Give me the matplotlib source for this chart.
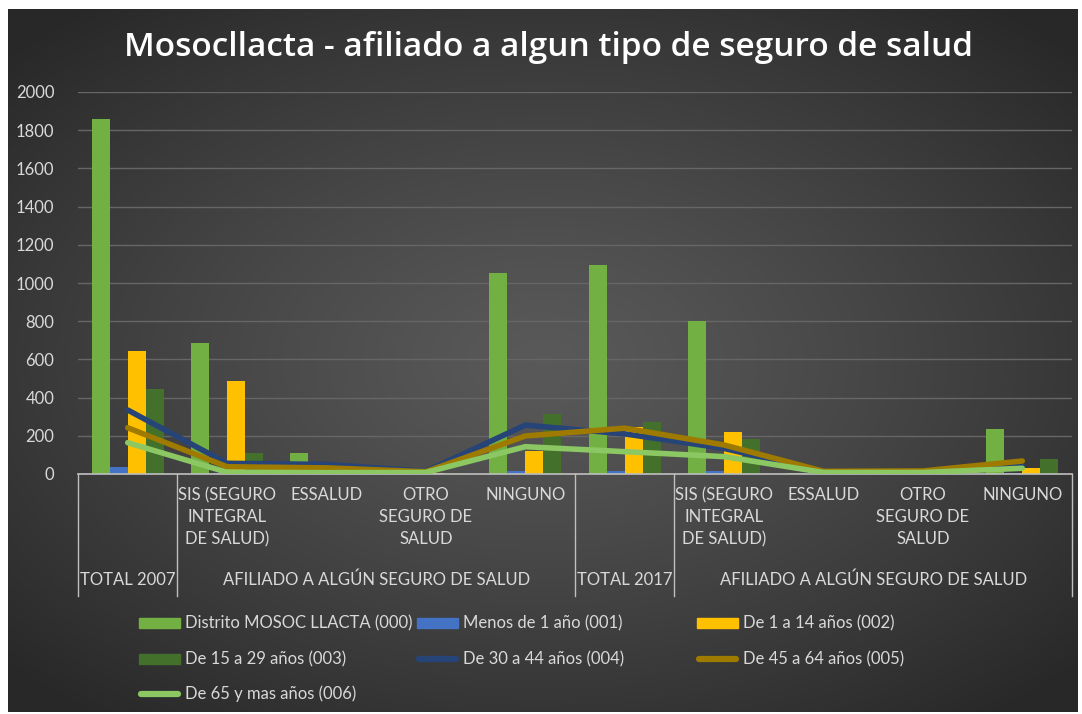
import numpy as np
import matplotlib
matplotlib.use("Agg")
import matplotlib.pyplot as plt
from matplotlib.patches import Rectangle
from matplotlib.lines import Line2D
import matplotlib.transforms as mtransforms


# ---------------------------
# Data
# ---------------------------
level1_labels = ["", "SIS (SEGURO\nINTEGRAL\nDE SALUD)", "ESSALUD", "OTRO\nSEGURO DE\nSALUD", "NINGUNO",
                 "", "SIS (SEGURO\nINTEGRAL\nDE SALUD)", "ESSALUD", "OTRO\nSEGURO DE\nSALUD", "NINGUNO"]
level2_labels = ["TOTAL 2007", "AFILIADO A ALGÚN SEGURO DE SALUD",
                 "TOTAL 2017", "AFILIADO A ALGÚN SEGURO DE SALUD"]
level2_spans = [(0, 0), (1, 4), (5, 5), (6, 9)]

bar_names = ["Distrito MOSOC LLACTA (000)", "Menos de 1 año (001)",
             "De 1 a 14 años (002)", "De 15 a 29 años (003)"]
distrito = [1860, 687, 108, 8, 1053, 1093, 802, 6, 4, 235]
menos_1 = [35, 4, 2, 0, 14, 17, 17, 0, 0, 4]
de_1_14 = [645, 485, 10, 3, 120, 248, 221, 3, 2, 30]
de_15_29 = [443, 108, 20, 3, 314, 274, 183, 3, 2, 78]

line_names = ["De 30 a 44 años (004)", "De 45 a 64 años (005)", "De 65 y mas años (006)"]
de_30_44 = [335, 56, 50, 14, 256, 210, 134, 12, 10, 40]
de_45_64 = [242, 38, 32, 12, 199, 240, 152, 14, 16, 68]
de_65 = [164, 9, 7, 8, 143, 117, 91, 8, 8, 30]

bar_colors = ["#72B043", "#4472C4", "#FFC000", "#43702B"]
line_colors = ["#264478", "#9E7A00", "#8BC763"]

W, H = 1082, 714
TXT = "#D9D9D9"
FONT = ["Lato", "DejaVu Sans"]


def fx(px):
    return px / W


def fy(py):
    return 1 - py / H


# ---------------------------
# Figure + background
# ---------------------------
fig = plt.figure(figsize=(W / 100, H / 100), dpi=100)
fig.patch.set_facecolor("white")

bg = fig.add_axes([fx(8), fy(712), fx(1078) - fx(8), fy(9) - fy(712)], zorder=0)
gx, gy = np.meshgrid(np.linspace(-1, 1, 400), np.linspace(-1, 1, 300))
r = np.clip(np.sqrt(gx ** 2 + (gy * 1.05) ** 2) / 1.35, 0, 1)
shade = 0.35 - 0.19 * r ** 1.2
bg.imshow(np.dstack([shade] * 3), aspect="auto", extent=[0, 1, 0, 1])
bg.set_axis_off()

# ---------------------------
# Main axes
# ---------------------------
ax = fig.add_axes([fx(78), fy(474), fx(1072) - fx(78), fy(92) - fy(474)], zorder=1)
ax.set_facecolor("none")
x = np.arange(len(distrito))
bw = 0.182
series = [distrito, menos_1, de_1_14, de_15_29]
for i, (vals, name, c) in enumerate(zip(series, bar_names, bar_colors)):
    ax.bar(x + (i - 1.5) * bw, vals, width=bw, color=c, label=name, zorder=2)

for vals, name, c in zip([de_30_44, de_45_64, de_65], line_names, line_colors):
    ax.plot(x, vals, color=c, lw=4.0, label=name, zorder=3,
            solid_capstyle="round", solid_joinstyle="round")

ax.set_xlim(-0.5, len(distrito) - 0.5)
ax.set_ylim(0, 2000)
ax.set_yticks(np.arange(0, 2001, 200))
ax.yaxis.grid(True, color="#666666", lw=1.0)
ax.set_axisbelow(True)
ax.tick_params(axis="y", length=0, labelcolor=TXT, labelsize=12, pad=17)
for t in ax.get_yticklabels():
    t.set_family(FONT)
ax.tick_params(axis="x", length=0, labelbottom=False)
for s in ["top", "right", "left"]:
    ax.spines[s].set_visible(False)
ax.spines["bottom"].set_color("#BFBFBF")
ax.spines["bottom"].set_linewidth(1.2)

# multi-level category axis
trans = mtransforms.blended_transform_factory(ax.transData, ax.transAxes)
axis_h = 474 - 92
bottom_y = (474 - 596) / axis_h
for b in [-0.5, 0.5, 4.5, 5.5, 9.5]:
    ax.plot([b, b], [0, bottom_y], color="#BFBFBF", lw=1.0, transform=trans, clip_on=False)

for xi, lab in zip(x, level1_labels):
    if lab:
        ax.text(xi, (474 - 487) / axis_h, lab, transform=trans, ha="center", va="top",
                color=TXT, fontsize=12, family=FONT, linespacing=1.45)

for lab, (a, b) in zip(level2_labels, level2_spans):
    ax.text((a + b) / 2, (474 - 580) / axis_h, lab, transform=trans, ha="center",
            va="center", color=TXT, fontsize=12, family=FONT)

# ---------------------------
# Title
# ---------------------------
fig.text(fx(549), fy(48), "Mosocllacta - afiliado a algun tipo de seguro de salud",
         ha="center", va="center", color="white", fontsize=24, fontweight="semibold",
         family=["Open Sans", "DejaVu Sans"])

# ---------------------------
# Legend (drawn by hand to keep Excel's column layout)
# ---------------------------
legend_items = [
    ("bar", bar_names[0], bar_colors[0]), ("bar", bar_names[1], bar_colors[1]),
    ("bar", bar_names[2], bar_colors[2]), ("bar", bar_names[3], bar_colors[3]),
    ("line", line_names[0], line_colors[0]), ("line", line_names[1], line_colors[1]),
    ("line", line_names[2], line_colors[2]),
]
col_x = [139, 417, 697]
row_y = [623, 659, 694]
for k, (kind, name, c) in enumerate(legend_items):
    px, py = col_x[k % 3], row_y[k // 3]
    if kind == "bar":
        fig.patches.append(Rectangle((fx(px), fy(py + 5)), fx(41), 10 / H, color=c,
                                     transform=fig.transFigure, figure=fig))
    else:
        fig.lines.append(Line2D([fx(px + 2), fx(px + 39)], [fy(py), fy(py)], color=c,
                                lw=4.5, solid_capstyle="round",
                                transform=fig.transFigure, figure=fig))
    fig.text(fx(px + 46), fy(py), name, ha="left", va="center", color=TXT,
             fontsize=12, family=FONT)

fig.savefig("out.png", dpi=100, facecolor=fig.get_facecolor())
